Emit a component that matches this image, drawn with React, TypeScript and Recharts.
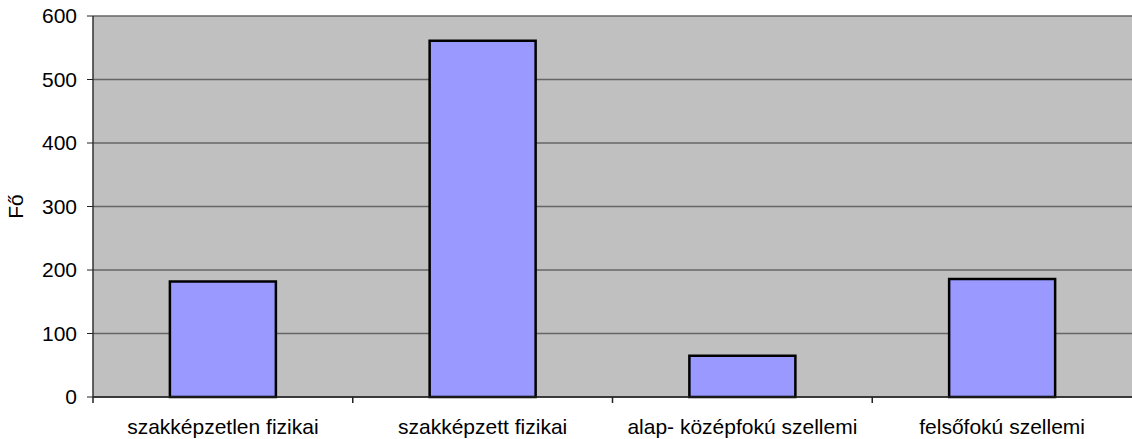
import React from 'react';
import { BarChart, Bar, XAxis, YAxis, CartesianGrid } from 'recharts';

const categories = ['szakképzetlen fizikai', 'szakképzett fizikai', 'alap- középfokú szellemi', 'felsőfokú szellemi'];
const values = [182, 561, 65, 186];
const yTicks = [0, 100, 200, 300, 400, 500, 600];
const yLabel = 'Fő';

const data = categories.map((name, i) => ({ name, value: values[i] }));

const font = '"Liberation Sans", Arial, sans-serif';
const FS = 21;

const CategoryTick = (props: any) => {
  const { x, y, payload } = props;
  const half = payload && typeof payload.offset === 'number' && payload.offset > 0 ? payload.offset : 1039 / 8;
  const axisY = y - 22;
  return (
    <g>
      <line x1={x - half} x2={x - half} y1={axisY} y2={axisY + 6} stroke="#222" strokeWidth={1.5} />
      <text x={x} y={y} dy="0.71em" textAnchor="middle" fill="#000" fontSize={FS} fontFamily={font}>
        {payload.value}
      </text>
    </g>
  );
};

export default function App() {
  return (
    <div style={{ position: 'absolute', left: 0, top: 0, background: '#fff' }}>
      <BarChart
        width={1132}
        height={439}
        data={data}
        margin={{ top: 16, right: 0, bottom: 0, left: 0 }}
        barCategoryGap="29.6%"
        style={{ fontFamily: font }}
      >
        <CartesianGrid vertical={false} stroke="#666666" strokeWidth={1.5} fill="#C0C0C0" />
        <XAxis
          dataKey="name"
          height={42}
          interval={0}
          tickSize={6}
          tickMargin={16}
          axisLine={{ stroke: '#222', strokeWidth: 1.5 }}
          tickLine={false}
          tick={<CategoryTick />}
        />
        <YAxis
          width={93}
          domain={[0, 600]}
          ticks={yTicks}
          interval={0}
          tickSize={6}
          tickMargin={10}
          axisLine={{ stroke: '#333', strokeWidth: 1.5 }}
          tickLine={{ stroke: '#222' }}
          tick={{ fill: '#000', fontSize: FS, fontFamily: font }}
          label={{ value: yLabel, angle: -90, position: 'insideLeft', offset: 16, style: { textAnchor: 'middle', fontSize: FS, fill: '#000', fontFamily: font } }}
        />
        <Bar dataKey="value" fill="#9999FF" stroke="#000" strokeWidth={2.5} isAnimationActive={false} />
      </BarChart>
    </div>
  );
}
